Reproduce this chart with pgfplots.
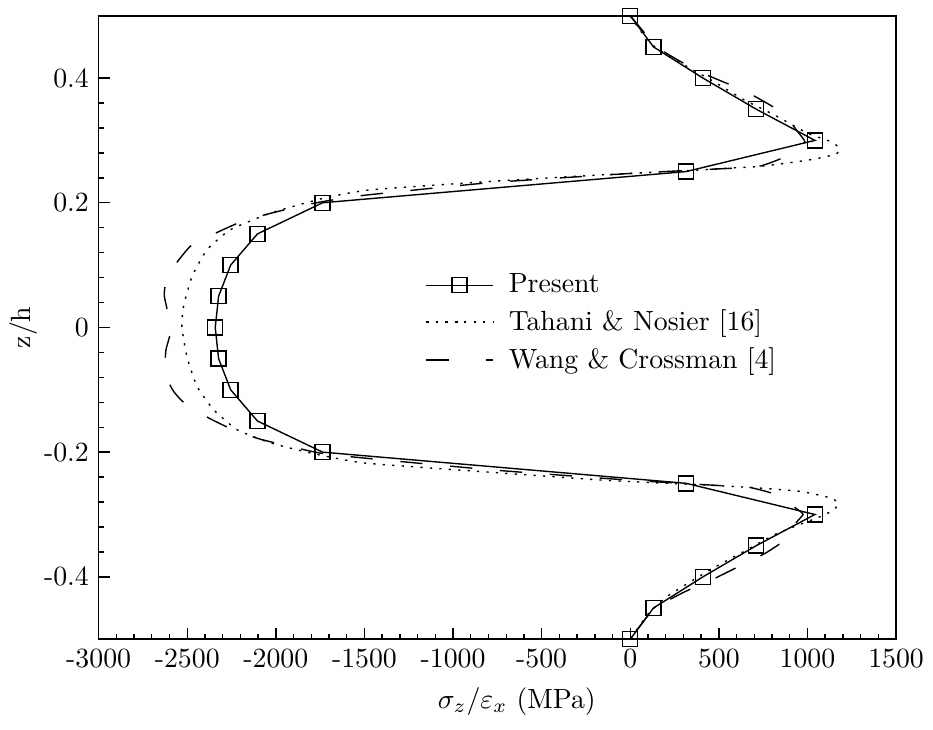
\documentclass[border=0pt]{standalone}
\usepackage{pgfplots}
\pgfplotsset{compat=1.18}
\begin{document}
\begin{tikzpicture}
\begin{axis}[
  scale only axis,
  width=287pt, height=224.4pt,
  xmin=-3000, xmax=1500, ymin=-0.5, ymax=0.5,
  xtick={-3000,-2500,-2000,-1500,-1000,-500,0,500,1000,1500},
  xticklabels={-3000,-2500,-2000,-1500,-1000,-500,0,500,1000,1500},
  ytick={-0.4,-0.2,0,0.2,0.4},
  yticklabels={-0.4,-0.2,0,0.2,0.4},
  minor x tick num=4, minor y tick num=4,
  tick pos=left, tick align=inside,
  major tick length=4pt, minor tick length=2pt,
  axis line style={line width=0.6pt},
  every tick/.style={line width=0.5pt, black},
  xlabel={$\sigma_z/\varepsilon_x$ (MPa)},
  xlabel style={xshift=7pt},
  ylabel={z/h},
  ylabel style={at={(axis description cs:-0.094,0.5)}, anchor=center},
  clip=false,
  legend cell align=left,
  legend style={draw=none, fill=none, anchor=west, at={(axis description cs:0.399,0.507)},
    row sep=1.6pt, column sep=4pt, nodes={inner sep=1.5pt}},
  legend image code/.code={\draw[mark repeat=2,mark phase=2] plot coordinates {(0cm,0cm) (0.42cm,0cm) (0.84cm,0cm)};},
]
\addplot[black, line width=0.5pt, mark=square, mark size=2.7pt, mark options={solid, line width=0.5pt}] coordinates {
(0,0.5)(131,0.45)(410,0.4)(711,0.35)(1042,0.3)(315,0.25)(-1736,0.2)(-2104,0.15)(-2255,0.1)(-2323,0.05)(-2342,0)(-2323,-0.05)(-2255,-0.1)(-2104,-0.15)(-1736,-0.2)(315,-0.25)(1042,-0.3)(711,-0.35)(410,-0.4)(131,-0.45)(0,-0.5)
};
\addlegendentry{Present}
\addplot[black, line width=0.5pt, dash pattern=on 0.8pt off 2.6pt, smooth, tension=0.3] coordinates {
(0,0.5)(60,0.475)(130,0.452)(260,0.428)(455,0.397)(643,0.365)(812,0.341)(1001,0.3115)(1133,0.298)(1180,0.2875)(1161,0.278)(1038,0.27)(869,0.263)(719,0.258)(549,0.2555)(398,0.2527)(210,0.25)(-166,0.2447)(-800,0.234)(-1466,0.2207)(-1730,0.2074)(-2031,0.1833)(-2257,0.1566)(-2389,0.1245)(-2473,0.0817)(-2521,0.0337)(-2530,0)
(-2502,-0.0465)(-2445,-0.0945)(-2351,-0.132)(-2219,-0.164)(-2031,-0.185)(-1805,-0.2013)(-1504,-0.2173)(-800,-0.232)(-166,-0.2447)(210,-0.25)(380,-0.252)(700,-0.257)(963,-0.263)(1131,-0.2735)(1174,-0.2815)(1151,-0.292)(1076,-0.303)(832,-0.33)(643,-0.359)(455,-0.388)(210,-0.431)(100,-0.46)(0,-0.5)
};
\addlegendentry{Tahani \& Nosier [16]}
\addplot[black, line width=0.5pt, dash pattern=on 8pt off 10pt, smooth, tension=0.3,
  legend image post style={dash pattern=on 8pt off 13.4pt}] coordinates {
(0,0.5)(76,0.474)(133,0.453)(250,0.432)(390,0.41)(566,0.389)(707,0.37)(860,0.344)(945,0.314)(985,0.298)(940,0.285)(869,0.273)(719,0.258)(400,0.253)(0,0.247)(-800,0.232)(-1500,0.212)(-1732,0.202)(-1873,0.194)(-2031,0.183)(-2191,0.170)(-2342,0.151)(-2483,0.13)(-2583,0.095)(-2619,0.076)(-2630,0.052)(-2610,0.025)(-2588,0.0)(-2605,-0.02)(-2620,-0.036)(-2625,-0.06)(-2611,-0.084)(-2577,-0.1025)(-2521,-0.12)(-2380,-0.145)(-2219,-0.167)(-2078,-0.18)(-1928,-0.19)(-1692,-0.204)(-800,-0.228)(0,-0.245)(511,-0.2537)(662,-0.2558)(822,-0.268)(945,-0.292)(975,-0.30)(930,-0.315)(889,-0.3375)(766,-0.3615)(615,-0.383)(473,-0.403)(300,-0.425)(131,-0.452)(0,-0.5)
};
\addlegendentry{Wang \& Crossman [4]}
\end{axis}
\pgfresetboundingbox
\path[use as bounding box] ([shift={(-35.5pt,-32.4pt)}]current axis.south west) rectangle ([shift={(13.3pt,5.65pt)}]current axis.north east);
\end{tikzpicture}
\end{document}
